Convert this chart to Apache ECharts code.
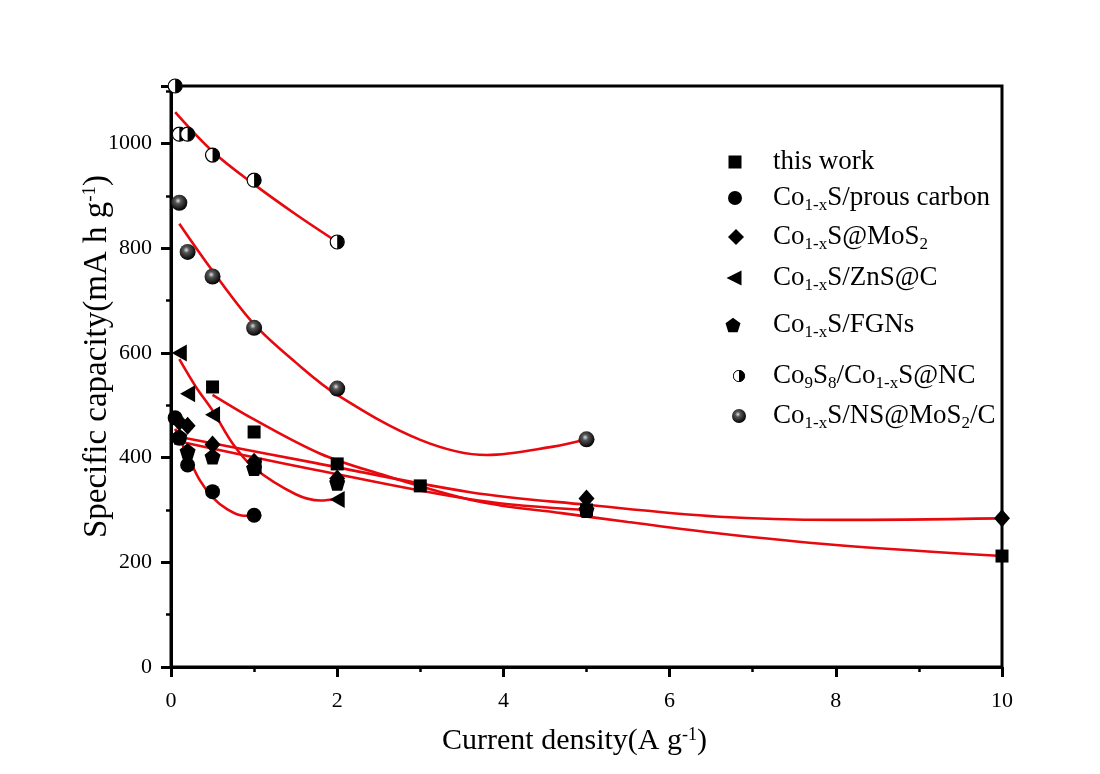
<!DOCTYPE html>
<html>
<head>
<meta charset="utf-8">
<script src="https://cdn.jsdelivr.net/npm/echarts@6/dist/echarts.min.js"></script>
<style>html,body{margin:0;padding:0;background:#fff;}#c{width:1100px;height:774px;}</style>
</head>
<body>
<div id="c"></div>
<script>
// ---- data ----
const seriesNames = ['this work','Co1-xS/prous carbon','Co1-xS@MoS2','Co1-xS/ZnS@C','Co1-xS/FGNs','Co9S8/Co1-xS@NC','Co1-xS/NS@MoS2/C'];
const legendRich = ['this work','Co{s|1-x}S/prous carbon','Co{s|1-x}S@MoS{s|2}','Co{s|1-x}S/ZnS@C','Co{s|1-x}S/FGNs','Co{s|9}S{s|8}/Co{s|1-x}S@NC','Co{s|1-x}S/NS@MoS{s|2}/C'];

const thisWorkX = [0.5, 1, 2, 3, 5, 10];
const thisWorkY = [535, 449, 388, 346, 300, 212];
const prousX = [0.05, 0.1, 0.2, 0.5, 1];
const prousY = [476, 437, 386, 335, 290];
const mos2X = [0.1, 0.2, 0.5, 1, 2, 5, 10];
const mos2Y = [468, 461, 425, 392, 360, 322, 284];
const znsX = [0.1, 0.2, 0.5, 1, 2];
const znsY = [600, 522, 482, 384, 320];
const fgnX = [0.1, 0.2, 0.5, 1, 2, 5];
const fgnY = [440, 412, 402, 380, 352, 300];
const co9X = [0.05, 0.1, 0.2, 0.5, 1, 2];
const co9Y = [1110, 1018, 1018, 978, 930, 812];
const nsX = [0.1, 0.2, 0.5, 1, 2, 5];
const nsY = [887, 793, 746, 648, 532, 435];

// fitted (red) curves
const thisFitX = [0.5, 1, 1.79, 2.45, 3.7, 4.7, 5.5, 6.6, 8, 10];
const thisFitY = [520, 473, 408, 372, 316, 294, 277, 255, 233, 212];
const prousFitX = [0.05, 0.23, 0.35, 0.5, 0.67, 0.87, 1];
const prousFitY = [455, 394, 356, 324, 302, 289, 289];
const mos2FitX = [0.09, 1.73, 3.6, 5, 6.6, 8, 10];
const mos2FitY = [440, 390, 334, 310, 287, 281, 284];
const znsFitX = [0.1, 0.3, 0.5, 0.75, 1, 1.5, 1.8, 2];
const znsFitY = [588, 535, 490, 425, 380, 330, 318, 322];
const fgnFitX = [0.1, 1.73, 3.7, 5];
const fgnFitY = [431, 377, 318, 300];
const co9FitX = [0.05, 0.5, 1, 1.5, 2];
const co9FitY = [1060, 985, 922, 865, 812];
const nsFitX = [0.1, 0.5, 1, 1.5, 2, 3, 3.8, 4.6, 5];
const nsFitY = [847, 757, 655, 582, 520, 434, 405, 421, 435];

const xMin = 0, xMax = 10, xInterval = 2;
const yMin = 0, yMax = 1110, yInterval = 200;

// ---- styling ----
const FONT = "'Liberation Serif','Times New Roman',serif";
const zip = (xs, ys) => xs.map((x, i) => [x, ys[i]]);
const halfSvg = "<svg xmlns='http://www.w3.org/2000/svg' width='40' height='40' viewBox='0 0 40 40'><circle cx='20' cy='20' r='17.5' fill='white' stroke='black' stroke-width='3'/><path d='M20 2.5 A17.5 17.5 0 0 1 20 37.5 Z' fill='black'/></svg>";
const halfSymbol = 'image://data:image/svg+xml;charset=utf-8,' + encodeURIComponent(halfSvg);
const pentagon = 'path://M0,-1 L0.951,-0.309 L0.588,0.809 L-0.588,0.809 L-0.951,-0.309 Z';
const leftTriangle = 'path://M0,5 L10,0 L10,10 Z';
const sphereColor = {type:'radial', x:0.42, y:0.38, r:0.62, colorStops:[{offset:0,color:'#e0e0e0'},{offset:0.3,color:'#555'},{offset:1,color:'#000'}]};

const markers = [
  {x:thisWorkX, y:thisWorkY, symbol:'rect', size:13, lsize:13},
  {x:prousX, y:prousY, symbol:'circle', size:15, lsize:14},
  {x:mos2X, y:mos2Y, symbol:'diamond', size:[16,18], lsize:16},
  {x:znsX, y:znsY, symbol:leftTriangle, size:[15,17], lsize:15, icon:leftTriangle},
  {x:fgnX, y:fgnY, symbol:pentagon, size:16, lsize:15},
  {x:co9X, y:co9Y, symbol:halfSymbol, size:16, lsize:13},
  {x:nsX, y:nsY, symbol:'circle', size:16, lsize:14, color:sphereColor}
];
const fits = [
  [thisFitX, thisFitY], [prousFitX, prousFitY], [mos2FitX, mos2FitY], [znsFitX, znsFitY],
  [fgnFitX, fgnFitY], [co9FitX, co9FitY], [nsFitX, nsFitY]
];

const series = [];
fits.forEach((f, i) => {
  series.push({
    name: 'fit' + i, type: 'line', data: zip(f[0], f[1]), smooth: 0.35,
    showSymbol: false, symbol: 'none', lineStyle: {color: '#e8090f', width: 2.6}, z: 3, silent: true
  });
});
markers.forEach((m, i) => {
  series.push({
    name: seriesNames[i], type: 'scatter', data: zip(m.x, m.y), symbol: m.symbol, symbolSize: m.size,
    itemStyle: {color: m.color || '#000', opacity: 1}, z: 4
  });
});

const legendCenters = [157, 193, 232, 273, 320, 371, 411];
const legendIconX = [730, 730, 731, 729, 728, 734, 734];
const legends = seriesNames.map((n, i) => {
  const s = markers[i].lsize;
  const item = markers[i].icon ? {name: n, icon: markers[i].icon} : {name: n};
  return {
    data: [item], left: legendIconX[i] - s / 2, top: legendCenters[i] - 16, orient: 'vertical',
    itemWidth: s, itemHeight: s, selectedMode: false,
    formatter: () => '{g|}' + legendRich[i],
    textStyle: {fontFamily: FONT, fontSize: 27, color: '#000', lineHeight: 32,
      rich: {
        g: {width: 768 - (legendIconX[i] + s / 2) - 5},
        s: {fontFamily: FONT, fontSize: 17, lineHeight: 15, verticalAlign: 'bottom', color: '#000'}
      }}
  };
});

const option = {
  backgroundColor: '#fff',
  animation: false,
  grid: {left: 171, right: 98, top: 86, bottom: 107, show: true, borderColor: '#000', borderWidth: 3},
  legend: legends,
  xAxis: {
    type: 'value', min: xMin, max: xMax, interval: xInterval,
    name: 'Current density(A g{p|-1})', nameLocation: 'middle', nameGap: 59, nameMoveOverlap: false,
    nameTextStyle: {fontFamily: FONT, fontSize: 30, color: '#000', padding: [0, 24, 0, 0],
      rich: {p: {fontFamily: FONT, fontSize: 18, verticalAlign: 'top', lineHeight: 20, color: '#000'}}},
    axisLine: {lineStyle: {color: '#000', width: 3}},
    axisTick: {inside: false, length: 10, lineStyle: {width: 3, color: '#000'}},
    minorTick: {show: true, splitNumber: 2, length: 5, lineStyle: {width: 2.5, color: '#000'}},
    axisLabel: {fontFamily: FONT, fontSize: 22, color: '#000', margin: 23},
    splitLine: {show: false}
  },
  yAxis: {
    type: 'value', min: yMin, max: yMax, interval: yInterval,
    name: 'Specific capacity(mA h g{p|-1})', nameLocation: 'middle', nameGap: 57, nameRotate: 90,
    nameMoveOverlap: false,
    nameTextStyle: {fontFamily: FONT, fontSize: 33, color: '#000', padding: [0, 0, 0, 40],
      rich: {p: {fontFamily: FONT, fontSize: 19, verticalAlign: 'top', lineHeight: 22, color: '#000'}}},
    axisLine: {lineStyle: {color: '#000', width: 3}},
    axisTick: {inside: false, length: 10, lineStyle: {width: 3, color: '#000'}},
    minorTick: {show: true, splitNumber: 2, length: 5, lineStyle: {width: 2.5, color: '#000'}},
    axisLabel: {fontFamily: FONT, fontSize: 22, color: '#000', margin: 19, showMaxLabel: false,
      formatter: v => String(v)},
    splitLine: {show: false}
  },
  series: series
};
const chart = echarts.init(document.getElementById('c'), null, {renderer: 'canvas'});
chart.setOption(option);
</script>
</body>
</html>
